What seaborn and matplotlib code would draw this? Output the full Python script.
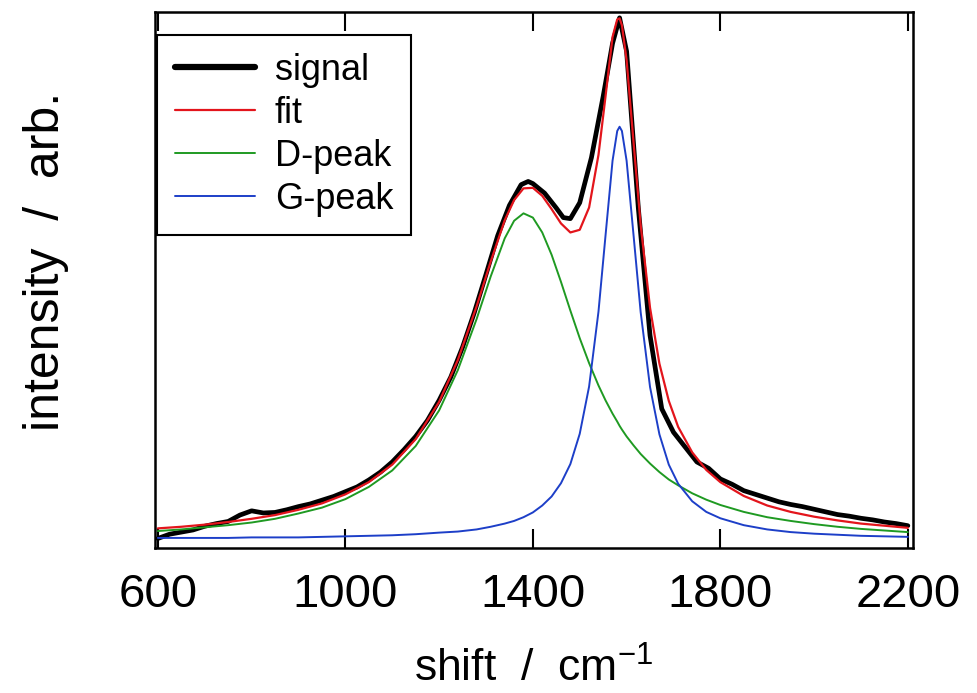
import numpy as np
import pandas as pd
import matplotlib
matplotlib.use("Agg")
import matplotlib.pyplot as plt
import seaborn as sns

# ── Data (intensity in arbitrary units) ──────────────────────────────────────
shift = [600, 650, 700, 750, 800, 850, 900, 950, 1000, 1050, 1100, 1150,
         1200, 1240, 1280, 1310, 1340, 1360, 1380, 1400, 1420, 1440, 1460,
         1480, 1500, 1520, 1540, 1555, 1570, 1580, 1585, 1590, 1600, 1615,
         1630, 1650, 1670, 1690, 1710, 1740, 1770, 1800, 1850, 1900, 1950,
         2000, 2050, 2100, 2150, 2200]

fit = [0.037, 0.040, 0.044, 0.049, 0.055, 0.062, 0.072, 0.084, 0.101, 0.124,
       0.157, 0.205, 0.275, 0.354, 0.455, 0.539, 0.617, 0.655, 0.677, 0.678,
       0.663, 0.638, 0.611, 0.594, 0.599, 0.641, 0.740, 0.850, 0.962, 0.995,
       0.997, 0.984, 0.918, 0.762, 0.608, 0.452, 0.347, 0.277, 0.228, 0.180,
       0.147, 0.124, 0.098, 0.080, 0.068, 0.059, 0.052, 0.046, 0.042, 0.038]

d_peak = [0.032, 0.035, 0.039, 0.043, 0.048, 0.055, 0.065, 0.076, 0.092, 0.115,
          0.146, 0.192, 0.259, 0.335, 0.431, 0.511, 0.583, 0.616, 0.630, 0.622,
          0.594, 0.552, 0.501, 0.447, 0.395, 0.348, 0.306, 0.278, 0.253, 0.238,
          0.230, 0.223, 0.210, 0.193, 0.177, 0.159, 0.143, 0.129, 0.118, 0.103,
          0.091, 0.081, 0.068, 0.058, 0.051, 0.045, 0.040, 0.036, 0.033, 0.030]

g_peak = [0.019, 0.019, 0.019, 0.019, 0.020, 0.020, 0.020, 0.021, 0.022, 0.023,
          0.024, 0.026, 0.029, 0.031, 0.035, 0.040, 0.046, 0.051, 0.058, 0.067,
          0.080, 0.097, 0.122, 0.158, 0.215, 0.304, 0.445, 0.588, 0.729, 0.785,
          0.793, 0.785, 0.729, 0.587, 0.444, 0.303, 0.214, 0.157, 0.121, 0.088,
          0.068, 0.056, 0.043, 0.035, 0.030, 0.027, 0.025, 0.023, 0.022, 0.021]

signal_shift = [600, 625, 650, 675, 700, 725, 750, 775, 800, 825, 850, 875,
                900, 925, 950, 975, 1000, 1025, 1050, 1075, 1100, 1125, 1150,
                1175, 1200, 1225, 1250, 1275, 1300, 1325, 1350, 1375, 1390,
                1400, 1425, 1450, 1465, 1480, 1500, 1525, 1550, 1570, 1585,
                1600, 1625, 1650, 1675, 1700, 1725, 1750, 1775, 1800, 1825,
                1850, 1875, 1900, 1925, 1950, 1975, 2000, 2025, 2050, 2075,
                2100, 2125, 2150, 2175, 2200]

signal = [0.018, 0.026, 0.030, 0.034, 0.041, 0.046, 0.050, 0.062, 0.070, 0.066,
          0.067, 0.072, 0.078, 0.083, 0.090, 0.097, 0.106, 0.115, 0.128, 0.143,
          0.162, 0.185, 0.210, 0.240, 0.278, 0.322, 0.378, 0.443, 0.515, 0.588,
          0.645, 0.684, 0.690, 0.686, 0.668, 0.640, 0.622, 0.620, 0.650, 0.735,
          0.850, 0.950, 0.998, 0.935, 0.640, 0.400, 0.262, 0.218, 0.190, 0.162,
          0.150, 0.130, 0.120, 0.108, 0.101, 0.094, 0.087, 0.082, 0.078, 0.073,
          0.068, 0.063, 0.060, 0.056, 0.053, 0.049, 0.046, 0.042]

xticks = [600, 1000, 1400, 1800, 2200]

COLORS = {"signal": "black", "fit": "#e3151c", "D-peak": "#1f9a22",
          "G-peak": "#1d3fc8"}

# ── Style ────────────────────────────────────────────────────────────────────
sns.set_style("ticks")
plt.rcParams["font.family"] = ["Liberation Sans", "DejaVu Sans"]
plt.rcParams["mathtext.fontset"] = "custom"
plt.rcParams["mathtext.rm"] = "Liberation Sans"
plt.rcParams["mathtext.it"] = "Liberation Sans"
plt.rcParams["mathtext.default"] = "regular"
plt.rcParams["text.color"] = "black"
plt.rcParams["axes.labelcolor"] = "black"
plt.rcParams["xtick.color"] = "black"

fig = plt.figure(figsize=(9.77, 6.93), dpi=100)
ax = fig.add_axes([0.1587, 0.2092, 0.7758, 0.7735])

fits = pd.DataFrame({"shift": shift, "fit": fit, "D-peak": d_peak,
                     "G-peak": g_peak})
sig = pd.DataFrame({"shift": signal_shift, "signal": signal})

sns.lineplot(data=sig, x="shift", y="signal", ax=ax, color=COLORS["signal"],
             linewidth=3.4, label="signal")
sns.lineplot(data=fits, x="shift", y="fit", ax=ax, color=COLORS["fit"],
             linewidth=1.6, label="fit")
sns.lineplot(data=fits, x="shift", y="D-peak", ax=ax, color=COLORS["D-peak"],
             linewidth=1.4, label="D-peak")
sns.lineplot(data=fits, x="shift", y="G-peak", ax=ax, color=COLORS["G-peak"],
             linewidth=1.4, label="G-peak")

ax.set_xlim(594, 2211)
ax.set_ylim(0, 1.009)
ax.set_xticks(xticks)
ax.set_yticks([])
ax.tick_params(axis="x", direction="in", top=True, length=14, width=1.5,
               pad=18, labelsize=34)
for sp in ax.spines.values():
    sp.set_visible(True)
    sp.set_linewidth(1.8)
    sp.set_color("black")

ax.set_xlabel("shift  /  cm$^{-1}$", fontsize=32, labelpad=22)
ax.set_ylabel("intensity  /  arb.", fontsize=36)
ax.yaxis.set_label_coords(-0.113, 0.535)

leg = ax.legend(loc="upper left", bbox_to_anchor=(0.003, 0.957),
                borderaxespad=0, handlelength=2.2, handletextpad=0.55,
                labelspacing=0.22, borderpad=0.5, fancybox=False,
                framealpha=1, edgecolor="black", prop={"size": 26})
leg.get_frame().set_linewidth(1.5)
leg.get_lines()[0].set_linewidth(4.5)

fig.savefig("out.png", dpi=100)
